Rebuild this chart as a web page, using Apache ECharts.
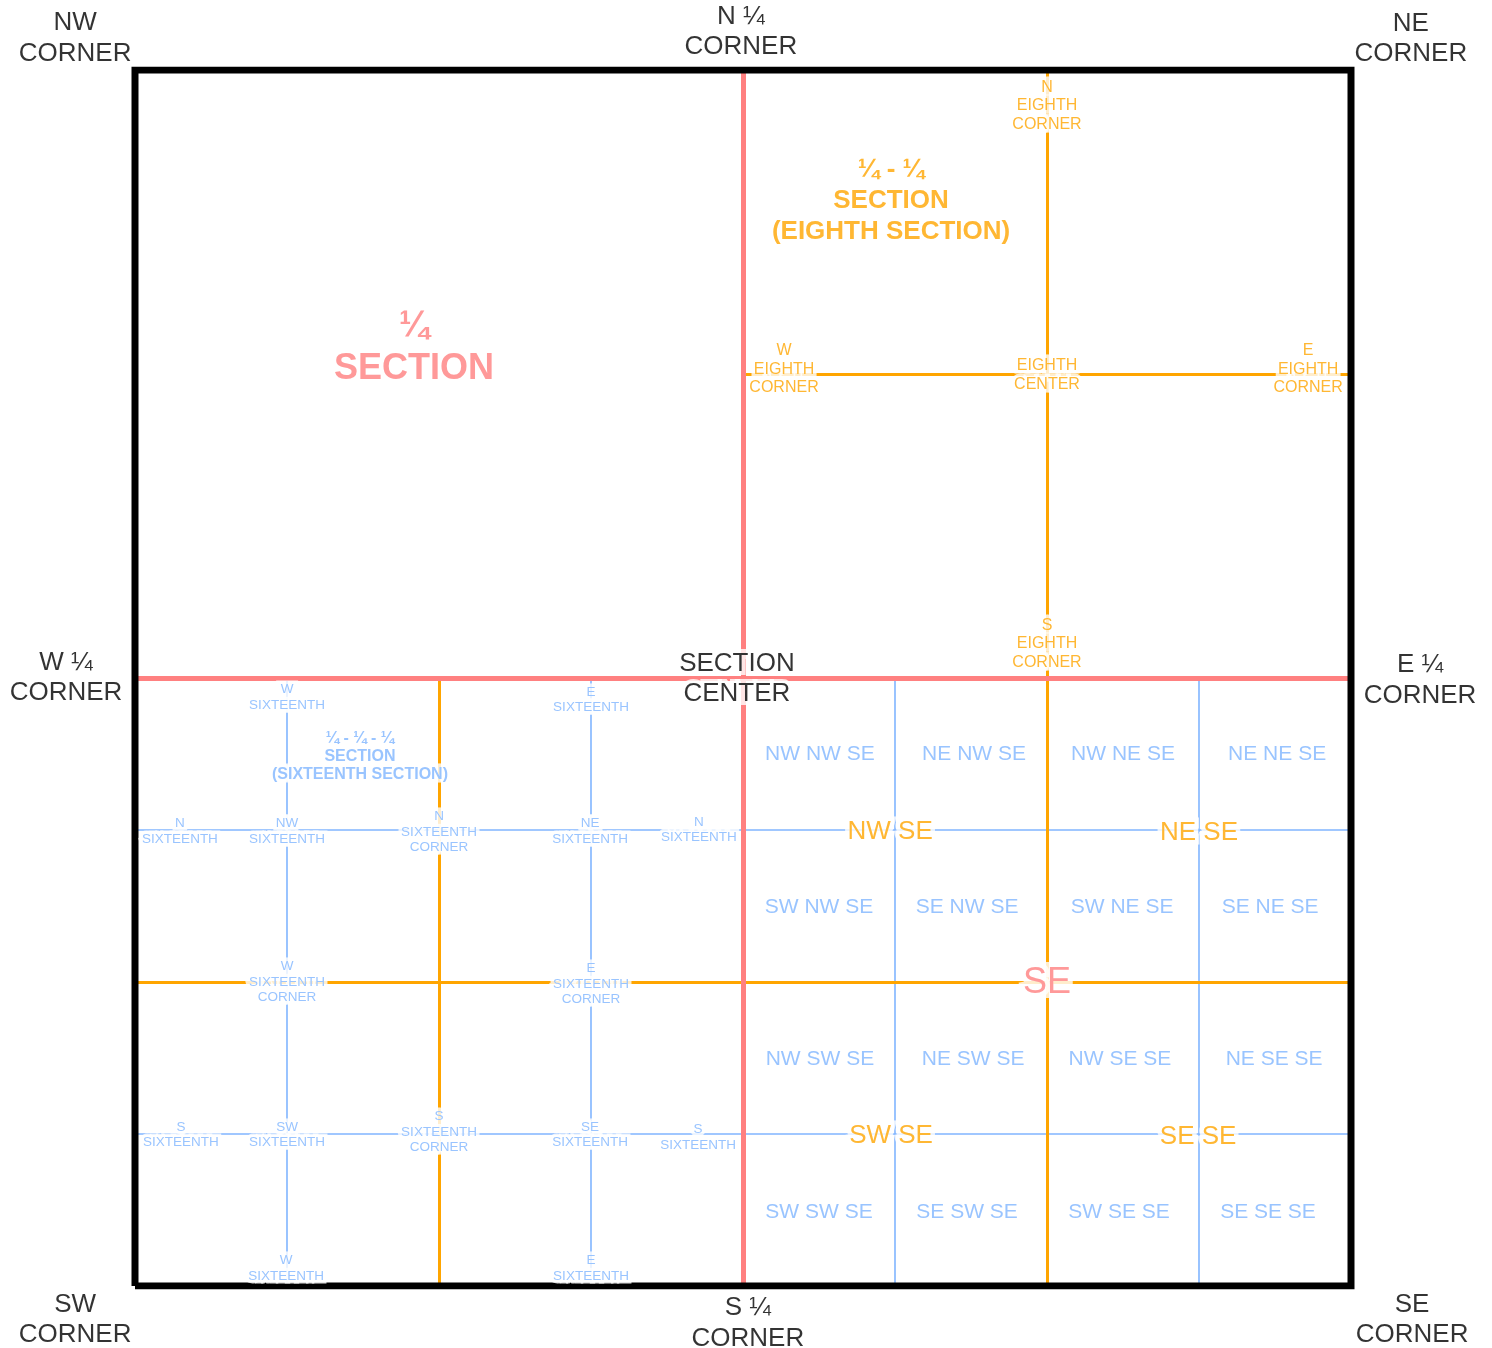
<!DOCTYPE html>
<html><head><meta charset="utf-8">
<script src="https://cdn.jsdelivr.net/npm/echarts@6/dist/echarts.min.js"></script>
<style>html,body{margin:0;padding:0;background:#fff}#c{width:1492px;height:1348px}</style>
</head><body><div id="c"></div>
<script>
// ---- colours ----
const RED = '#ff8080', ORANGE = '#ffa500', BLUE = '#80b5ff', BLACK = '#000000';
const FONT = '"Liberation Sans", Arial, sans-serif';
const NARROW = '"Liberation Sans Narrow", "Liberation Sans", Arial, sans-serif';

// ---- section geometry (units: quarter-quarter widths, 0..4) ----
const borderPath = [[0,0],[4,0],[4,4],[0,4],[0,0]];
const quarterLines = [[[2,0],[2,4]], [[0,2],[4,2]]];
const eighthLines = [[[3,0],[3,4]], [[2,3],[4,3]], [[1,0],[1,2]], [[0,1],[4,1]]];
const sixteenthLines = [[[0.5,0],[0.5,2]], [[1.5,0],[1.5,2]], [[2.5,0],[2.5,2]], [[3.5,0],[3.5,2]],
                        [[0,0.5],[4,0.5]], [[0,1.5],[4,1.5]]];

// ---- corner labels (black) ----
const cornerText = ['NW\nCORNER','N ¼\nCORNER','NE\nCORNER','W ¼\nCORNER','E ¼\nCORNER','SW\nCORNER','S ¼\nCORNER','SE\nCORNER','SECTION\nCENTER'];
const cornerX = [-0.197, 1.993, 4.197, -0.227, 4.227, -0.197, 2.016, 4.201, 1.980];
const cornerY = [4.105, 4.125, 4.102, 2.000, 1.993, -0.112, -0.122, -0.112, 1.997];

// ---- eighth corner labels (orange, small) ----
const eighthText = ['N\nEIGHTH\nCORNER','W\nEIGHTH\nCORNER','EIGHTH\nCENTER','E\nEIGHTH\nCORNER','S\nEIGHTH\nCORNER'];
const eighthX = [3.000, 2.135, 3.000, 3.859, 3.000];
const eighthY = [3.882, 3.016, 2.997, 3.016, 2.112];

// ---- sixteenth corner labels (blue, small) ----
const sixteenthText = ['W\nSIXTEENTH','E\nSIXTEENTH','N\nSIXTEENTH','NW\nSIXTEENTH','N\nSIXTEENTH\nCORNER','NE\nSIXTEENTH','N\nSIXTEENTH',
  'W\nSIXTEENTH\nCORNER','E\nSIXTEENTH\nCORNER','S\nSIXTEENTH','SW\nSIXTEENTH','S\nSIXTEENTH\nCORNER','SE\nSIXTEENTH','S\nSIXTEENTH','W\nSIXTEENTH','E\nSIXTEENTH'];
const sixteenthX = [0.500, 1.500, 0.148, 0.500, 1.000, 1.497, 1.855, 0.500, 1.500, 0.151, 0.500, 1.000, 1.497, 1.852, 0.497, 1.500];
const sixteenthY = [1.937, 1.928, 1.495, 1.495, 1.493, 1.495, 1.500, 1.000, 0.993, 0.498, 0.498, 0.507, 0.498, 0.490, 0.058, 0.058];

// ---- titles ----
const quarterTitle = '¼\nSECTION';           const quarterTitleXY = [0.918, 3.086];
const eighthTitle = '¼ - ¼\nSECTION\n(EIGHTH SECTION)';         const eighthTitleXY = [2.487, 3.569];
const sixteenthTitle = '¼ - ¼ - ¼\nSECTION\n(SIXTEENTH SECTION)'; const sixteenthTitleXY = [0.740, 1.740];

// ---- SE quarter names ----
const seQuarterText = 'SE'; const seQuarterXY = [3.000, 0.997];
const seEighthText = ['NW SE','NE SE','SW SE','SE SE'];
const seEighthX = [2.484, 3.500, 2.487, 3.497];
const seEighthY = [1.493, 1.490, 0.493, 0.490];
const seSixteenthText = ['NW NW SE','NE NW SE','NW NE SE','NE NE SE',
                         'SW NW SE','SE NW SE','SW NE SE','SE NE SE',
                         'NW SW SE','NE SW SE','NW SE SE','NE SE SE',
                         'SW SW SE','SE SW SE','SW SE SE','SE SE SE'];
const seSixteenthX = [2.253, 2.760, 3.250, 3.757,
                      2.250, 2.737, 3.247, 3.734,
                      2.253, 2.757, 3.240, 3.747,
                      2.250, 2.737, 3.237, 3.727];
const seSixteenthY = [1.750, 1.750, 1.750, 1.750,
                      1.247, 1.247, 1.247, 1.247,
                      0.747, 0.747, 0.747, 0.747,
                      0.243, 0.243, 0.243, 0.243];

function segSeries(segs, color, width, z) {
  return { type: 'lines', coordinateSystem: 'cartesian2d', silent: true, z: z, polyline: false,
    lineStyle: { color: color, width: width, opacity: 1, cap: 'butt' },
    data: segs.map(s => ({ coords: s })) };
}
function oneLabelLayer(texts, xs, ys, style, z) {
  return { type: 'scatter', silent: true, clip: false, z: z, symbolSize: 1,
    itemStyle: { color: 'rgba(255,255,255,0)' },
    label: Object.assign({ show: true, position: 'inside', formatter: p => p.name,
      align: 'center', verticalAlign: 'middle', textBorderWidth: 0 }, style),
    data: texts.map((t, i) => ({ name: t, value: [xs[i], ys[i]] })) };
}
// white halo layer underneath, coloured text on top
function labelSeries(texts, xs, ys, style, halo) {
  const haloStyle = Object.assign({}, style, { color: '#ffffff', textBorderColor: '#ffffff', textBorderWidth: halo });
  return [oneLabelLayer(texts, xs, ys, haloStyle, 9), oneLabelLayer(texts, xs, ys, style, 10)];
}

const series = [
  segSeries(sixteenthLines, BLUE, 1.6, 1),
  segSeries(eighthLines, ORANGE, 3, 2),
  segSeries(quarterLines, RED, 5, 3),
  { type: 'lines', coordinateSystem: 'cartesian2d', polyline: true, silent: true, z: 4,
    lineStyle: { color: BLACK, width: 7, opacity: 1, join: 'miter' },
    data: [{ coords: borderPath }] }
].concat(
  labelSeries(sixteenthText, sixteenthX, sixteenthY,
    { color: BLUE, fontFamily: NARROW, fontSize: 13.5, lineHeight: 15.5 }, 7),
  labelSeries(eighthText, eighthX, eighthY,
    { color: ORANGE, fontFamily: NARROW, fontSize: 16, lineHeight: 18.5 }, 7),
  labelSeries(cornerText, cornerX, cornerY,
    { color: BLACK, fontFamily: FONT, fontSize: 26, lineHeight: 30.5 }, 8),
  labelSeries([quarterTitle], [quarterTitleXY[0]], [quarterTitleXY[1]],
    { color: RED, fontFamily: FONT, fontWeight: 'bold', fontSize: 36, lineHeight: 43 }, 8),
  labelSeries([eighthTitle], [eighthTitleXY[0]], [eighthTitleXY[1]],
    { color: ORANGE, fontFamily: FONT, fontWeight: 'bold', fontSize: 26, lineHeight: 31 }, 8),
  labelSeries([sixteenthTitle], [sixteenthTitleXY[0]], [sixteenthTitleXY[1]],
    { color: BLUE, fontFamily: FONT, fontWeight: 'bold', fontSize: 16, lineHeight: 18 }, 7),
  labelSeries([seQuarterText], [seQuarterXY[0]], [seQuarterXY[1]],
    { color: RED, fontFamily: FONT, fontSize: 36, lineHeight: 40 }, 10),
  labelSeries(seEighthText, seEighthX, seEighthY,
    { color: ORANGE, fontFamily: FONT, fontSize: 26, lineHeight: 30 }, 9),
  labelSeries(seSixteenthText, seSixteenthX, seSixteenthY,
    { color: BLUE, fontFamily: FONT, fontSize: 21, lineHeight: 24 }, 6)
);

const chart = echarts.init(document.getElementById('c'), null, { renderer: 'canvas' });
chart.setOption({
  animation: false,
  backgroundColor: '#fff',
  grid: { left: 135, top: 70, width: 1216, height: 1216 },
  xAxis: { type: 'value', min: 0, max: 4, show: false },
  yAxis: { type: 'value', min: 0, max: 4, show: false },
  series: series
});
</script></body></html>
